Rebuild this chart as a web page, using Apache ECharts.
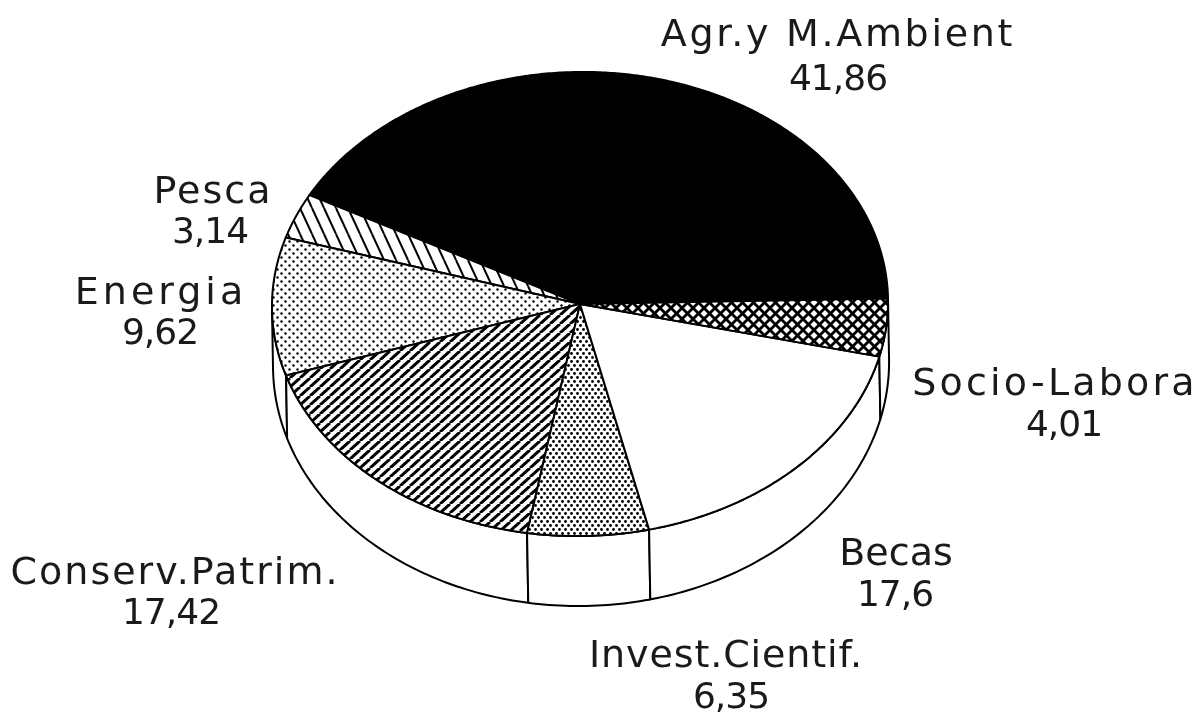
<!DOCTYPE html>
<html><head><meta charset="utf-8">
<style>html,body{margin:0;padding:0;background:#fff}#c{width:1199px;height:716px}</style>
<script src="https://cdn.jsdelivr.net/npm/echarts@6/dist/echarts.min.js"></script>
</head><body><div id="c"></div>
<script>
const categories = ['Agr.y M.Ambient','Pesca','Energia','Conserv.Patrim.','Invest.Cientif.','Becas','Socio-Labora'];
const valueLabels = ['41,86','3,14','9,62','17,42','6,35','17,6','4,01'];
const values = [41.86,3.14,9.62,17.42,6.35,17.6,4.01];
const fills = ['solid','back','dots','fwd','dense','white','cross'];
// label layout: [name x, name y, value x, value y, name letter spacing]
const labelLayout = [[838,36,838,81,2.7],[213,193,210,234,2],[161,294,160,335,4],[175,574,171,615,2],[726,657,731,699,0.9],[896,555,895,597,0],[1055,385,1064,427,3.2]];
const CX=580, CY=304, RX=308, RY=232, DEPTH_SIDE=60, DEPTH_FRONT=10, TILT=0.0175;

const spacing=new Map(categories.map((c,i)=>[c,labelLayout[i][4]]));
valueLabels.forEach(v=>spacing.set(v,-1));
const nativeFill=CanvasRenderingContext2D.prototype.fillText;
CanvasRenderingContext2D.prototype.fillText=function(t,x,y,m){
  this.letterSpacing=(spacing.get(t)||0)+'px';
  return m===undefined?nativeFill.call(this,t,x,y):nativeFill.call(this,t,x,y,m);
};

function pat(w,h,draw){const c=document.createElement('canvas');c.width=w;c.height=h;const g=c.getContext('2d');
  g.fillStyle='#fff';g.fillRect(0,0,w,h);g.fillStyle='#000';g.strokeStyle='#000';draw(g);return {image:c,repeat:'repeat'};}
function seg(g,w,a,b,c,d){g.lineWidth=w;g.beginPath();g.moveTo(a,b);g.lineTo(c,d);g.stroke();}
function dot(g,x,y,r){g.beginPath();g.arc(x,y,r,0,7);g.fill();}
function tileHatch(g,w,h,dir,lw){for(let i=-1;i<=1;i++){
  if(dir>0)seg(g,lw,i*w,h,i*w+w,0);else seg(g,lw,i*w,0,i*w+w,h);}}
const patterns={
  solid:'#000', white:'#fff',
  back:pat(12,26,g=>tileHatch(g,12,26,-1,2)),
  fwd:pat(10,9,g=>tileHatch(g,10,9,1,3)),
  cross:pat(11,11,g=>{tileHatch(g,11,11,1,2.8);tileHatch(g,11,11,-1,2.8);}),
  dots:pat(8,8,g=>{dot(g,1.5,1.5,1.2);dot(g,5.5,5.5,1.2);}),
  dense:pat(6,8,g=>{dot(g,1.5,1.5,1.4);dot(g,4.5,5.5,1.4);})
};
const total=values.reduce((a,b)=>a+b,0);
const starts=[];values.reduce((a,v,i)=>{starts[i]=a;return a+v;},0);
const pt=(deg,wall)=>{const r=deg*Math.PI/180;const x=RX*Math.cos(r);
  const dy=wall?DEPTH_SIDE+DEPTH_FRONT*Math.abs(Math.sin(r)):0;
  const y=-RY*Math.sin(r)+dy;
  return [CX+x+TILT*y,CY+y-TILT*x];};

function renderItem(params,api){
  const i=params.dataIndex, v=api.value(0), a0=api.value(1)/total*360, a1=a0+v/total*360;
  const kids=[];
  const ln={stroke:'#000',lineWidth:2,lineJoin:'round'};
  const f0=Math.max(a0,180), f1=Math.min(a1,360);
  if(f1>f0){const pts=[];
    for(let a=f0;a<=f1+1e-6;a+=1)pts.push(pt(a));pts.push(pt(f1));
    pts.push(pt(f1,true));
    for(let a=f1;a>=f0-1e-6;a-=1)pts.push(pt(a,true));pts.push(pt(f0,true));
    kids.push({type:'polygon',shape:{points:pts},style:{fill:'#fff',...ln},z2:1});}
  const pts=[[CX,CY]];
  for(let a=a0;a<a1;a+=0.5)pts.push(pt(a));pts.push(pt(a1));
  kids.push({type:'polygon',shape:{points:pts},style:{fill:patterns[fills[i]],...ln},z2:2});
  const p=labelLayout[i];
  kids.push({type:'text',z2:3,style:{x:p[0],y:p[1],text:categories[i],fill:'#1a1a1a',font:'38px "DejaVu Sans"',align:'center',verticalAlign:'middle'}});
  kids.push({type:'text',z2:3,style:{x:p[2],y:p[3],text:valueLabels[i],fill:'#1a1a1a',font:'36px "DejaVu Sans"',align:'center',verticalAlign:'middle'}});
  return {type:'group',children:kids};
}
const chart=echarts.init(document.getElementById('c'),null,{renderer:'canvas'});
chart.setOption({animation:false,backgroundColor:'#fff',
  series:[{type:'custom',coordinateSystem:'none',renderItem,
    data:values.map((v,i)=>[v,starts[i]]),encode:{value:[0,1]}}]});
</script></body></html>
